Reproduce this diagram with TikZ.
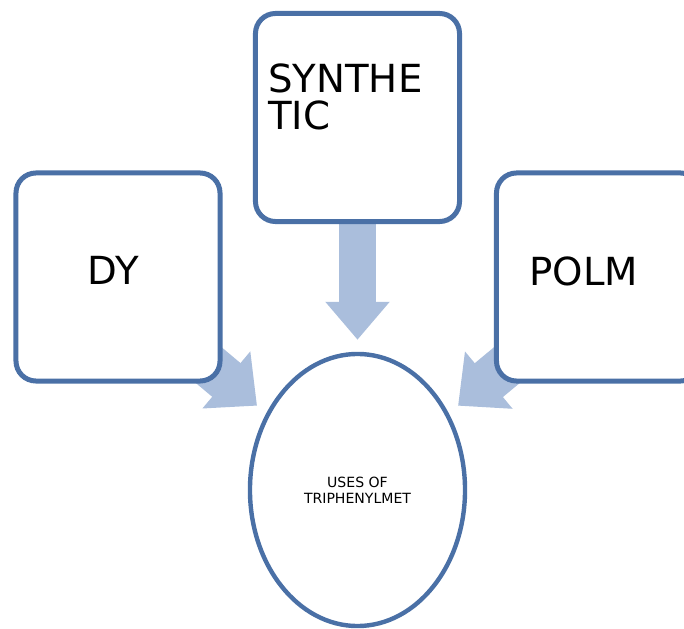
\documentclass[tikz,border=0pt]{standalone}
\usepackage{fontspec}
\setmainfont{DejaVu Sans}
\usetikzlibrary{arrows.meta,positioning,calc,shapes.geometric,backgrounds}
\definecolor{boxblue}{RGB}{74,112,166}
\definecolor{arrowblue}{RGB}{170,190,220}

\begin{document}
\begin{tikzpicture}[x=0.025cm,y=-0.025cm,
  box/.style={draw=boxblue,line width=0.125cm,rounded corners=0.5cm,fill=white,
              minimum width=5.1cm,minimum height=5.2cm},
  usesell/.style={ellipse,draw=boxblue,line width=0.11cm,fill=white,
              minimum width=5.375cm,minimum height=6.8cm,inner sep=0pt,
              align=center,font=\fontsize{10pt}{11.5pt}\selectfont},
  bigtxt/.style={inner sep=0pt,anchor=north west,align=left,
              font=\fontsize{27.5pt}{26pt}\selectfont},
  blockarrow/.style={draw=arrowblue,line width=0.9cm,shorten >=0.3cm,
              -{Triangle[width=1.55cm,length=0.95cm]}},
  diagarrow/.style={blockarrow,line width=1.1cm,
              -{Triangle[width=1.8cm,length=1.0cm]}}]
\useasboundingbox (0,0) rectangle (684,629);
\clip (0,0) rectangle (684,629);
% boxes
\node[box] (synth) at (357.5,117.5) {};
\node[box] (dy) at (118,277) {};
\node[box] (polm) at (598.5,277) {};
\node[usesell] (uses) at (357.5,490) {USES OF\\TRIPHENYLMET};
% texts
\node[bigtxt] (synthtxt) at ($(synth.north west)+(15,53)$) {SYNTHE\\TIC};
\node[bigtxt] (dytxt) at ($(dy.north west)+(74,86)$) {DY};
\node[bigtxt] (polmtxt) at ($(polm.north west)+(35,86)$) {POLM};
% arrows
\coordinate (dystart) at ($(dy.center)+(0,12)$);
\coordinate (polmstart) at ($(polm.center)+(0,12)$);
\begin{scope}[on background layer]
\draw[blockarrow] (synth.center)--(uses.north);
\draw[diagarrow] (dystart)--(uses.140);
\draw[diagarrow] (polmstart)--(uses.40);
\end{scope}
\end{tikzpicture}
\end{document}
